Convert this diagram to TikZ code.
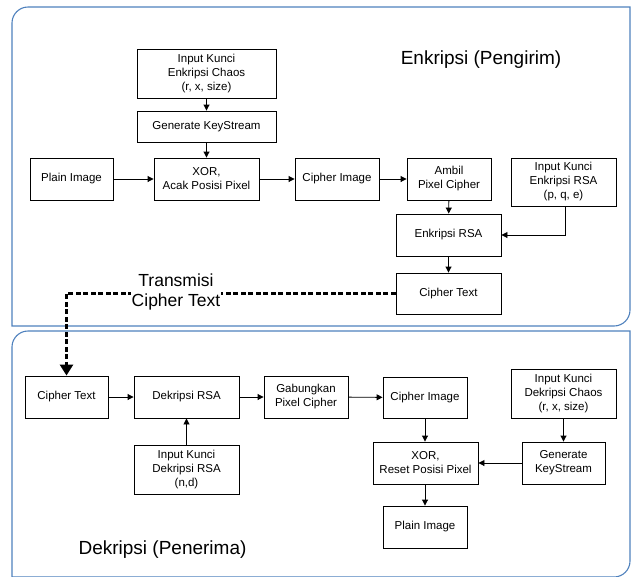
\documentclass[tikz,border=0pt]{standalone}
\usepackage{fontspec}
\setmainfont{Liberation Sans}
\usetikzlibrary{arrows.meta}
\definecolor{panelblue}{HTML}{4F81BD}
\begin{document}
\begin{tikzpicture}[x=1pt,y=-1pt,
  box/.style={draw=black,line width=0.9pt,align=center,inner sep=1pt,
    font=\fontsize{11.5}{14}\selectfont},
  conn/.style={line width=0.9pt,-{Triangle[length=6pt,width=6pt]}},
  panel/.style={draw=panelblue,line width=1.1pt},
  title/.style={font=\fontsize{19}{22}\selectfont},
  dashline/.style={line width=2.6pt,dash pattern=on 5pt off 2.5pt,
    -{Triangle[length=11pt,width=13pt]}}]
\useasboundingbox (0,0) rectangle (631,576);
% panels
\draw[panel] (12,326) -- (12,23) .. controls (12,14.2) and (19.2,7) .. (28,7)
  -- (630,7) -- (630,310) .. controls (630,318.8) and (622.8,326) .. (614,326) -- cycle;
\draw[panel] (12,579) -- (12,347) .. controls (12,338.2) and (19.2,331) .. (28,331)
  -- (630,331) -- (630,561) .. controls (630,569.8) and (622.8,577) .. (614,577) -- (12,577);
% titles
\node[title] (tenc) at (481,60) {Enkripsi (Pengirim)};
\node[title] (tdec) at (162.5,550) {Dekripsi (Penerima)};
% top boxes
\node[box,minimum width=139pt,minimum height=49pt] (ink1) at (206.5,73.5) {Input Kunci\\Enkripsi Chaos\\(r, x, size)};
\node[box,minimum width=139pt,minimum height=31pt] (gen1) at (206.5,126.5) {Generate KeyStream};
\node[box,minimum width=83pt,minimum height=42pt] (plain1) at (71.5,179) {Plain Image};
\node[box,minimum width=105pt,minimum height=42pt] (xor1) at (206.5,179) {XOR,\\Acak Posisi Pixel};
\node[box,minimum width=84pt,minimum height=42pt] (cimg1) at (337,179) {Cipher Image};
\node[box,minimum width=84pt,minimum height=42pt] (ambil) at (449,179) {Ambil\\Pixel Cipher};
\node[box,minimum width=105pt,minimum height=48pt] (inrsa1) at (563.5,182) {Input Kunci\\Enkripsi RSA\\(p, q, e)};
\node[box,minimum width=105pt,minimum height=42pt] (enc) at (448.5,235) {Enkripsi RSA};
\node[box,minimum width=105pt,minimum height=41pt] (ct1) at (448.5,293.5) {Cipher Text};
% bottom boxes
\node[box,minimum width=83pt,minimum height=42pt] (ct2) at (66.5,397) {Cipher Text};
\node[box,minimum width=105pt,minimum height=42pt] (dec) at (186.5,397) {Dekripsi RSA};
\node[box,minimum width=84pt,minimum height=42pt] (gab) at (306,397) {Gabungkan\\Pixel Cipher};
\node[box,minimum width=84pt,minimum height=41pt] (cimg2) at (425,397.5) {Cipher Image};
\node[box,minimum width=105pt,minimum height=49pt] (ink2) at (563.5,393.5) {Input Kunci\\Dekripsi Chaos\\(r, x, size)};
\node[box,minimum width=105pt,minimum height=42pt] (xor2) at (425.5,463) {XOR,\\Reset Posisi Pixel};
\node[box,minimum width=83pt,minimum height=42pt] (gen2) at (563.5,463) {Generate\\KeyStream};
\node[box,minimum width=84pt,minimum height=42pt] (plain2) at (425,527) {Plain Image};
\node[box,minimum width=105pt,minimum height=49pt] (indec) at (186.5,469.5) {Input Kunci\\Dekripsi RSA\\(n,d)};
% top connectors
\draw[conn] (ink1) -- (gen1);
\draw[conn] (gen1) -- (xor1);
\draw[conn] (plain1) -- (xor1);
\draw[conn] (xor1) -- (cimg1);
\draw[conn] (cimg1) -- (ambil);
\draw[conn] (ambil) -- (enc);
\draw[conn] ([xshift=1.5pt]inrsa1.south) |- (enc.east);
\draw[conn] (enc) -- (ct1);
% bottom connectors
\draw[conn] (ct2) -- (dec);
\draw[conn] (dec) -- (gab);
\draw[conn] (gab) -- (cimg2);
\draw[conn] (cimg2) -- (xor2.north -| cimg2);
\draw[conn] (xor2.south -| plain2) -- (plain2);
\draw[conn] (indec) -- (dec);
\draw[conn] (ink2) -- (gen2);
\draw[conn] (gen2) -- (xor2);
% transmission
\draw[dashline] (ct1.west) -| (ct2.north);
\node[fill=white,inner sep=1pt,align=center,font=\fontsize{17.5}{20}\selectfont] (trans) at (176,292) {Transmisi\\Cipher Text};
\end{tikzpicture}
\end{document}
